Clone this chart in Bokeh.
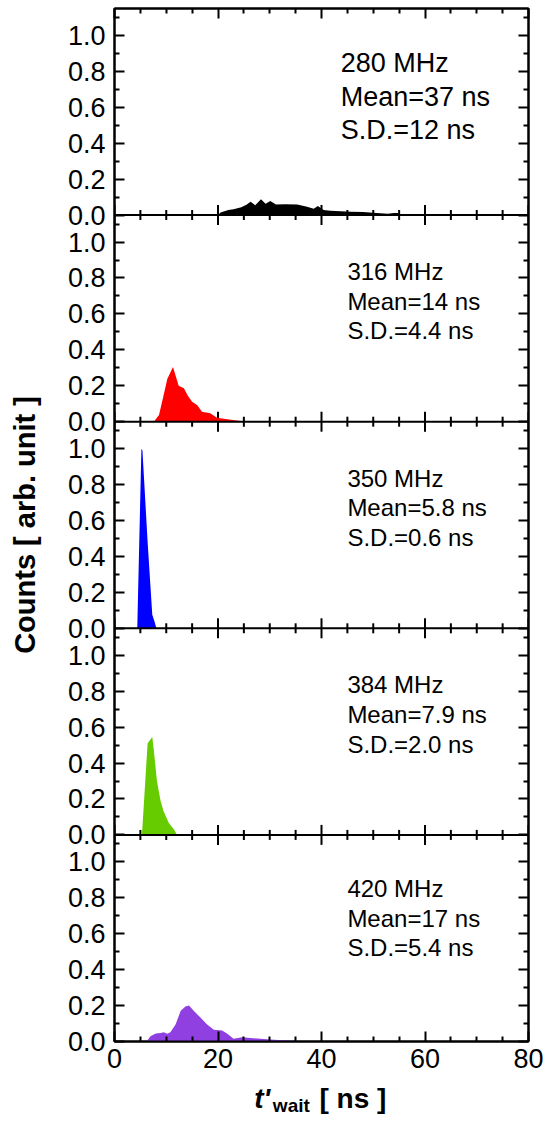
from bokeh.plotting import figure
from bokeh.layouts import column
from bokeh.models import (FixedTicker, CustomJSTickFormatter, LinearAxis, Span,
                          Range1d)
from bokeh.core.properties import value
from bokeh.embed import file_html
from bokeh.resources import INLINE

# ---------------- data ----------------
freqs = ["280", "316", "350", "384", "420"]
means = ["37", "14", "5.8", "7.9", "17"]
sds = ["12", "4.4", "0.6", "2.0", "5.4"]
colors = ["#000000", "#FF0000", "#0000FF", "#66CC00", "#9040E0"]

t_280 = [18, 20, 20.5, 22, 23, 24.5, 25.5, 26.3, 27.2, 28.3, 29.2, 30.1, 31.2, 33,
         35.3, 37.2, 38.5, 39.3, 40.4, 41.7, 43.7, 45.6, 48, 50, 52.8, 54, 54.7,
         55.3, 57.2, 59, 62]
c_280 = [0, 0, 0.014, 0.029, 0.033, 0.043, 0.057, 0.074, 0.055, 0.088, 0.063, 0.078,
         0.059, 0.061, 0.059, 0.047, 0.035, 0.05, 0.029, 0.024, 0.021, 0.019, 0.017,
         0.013, 0.008, 0.011, 0.011, 0.006, 0.004, 0.003, 0]

t_316 = [7.6, 8.6, 9.5, 10.2, 11.3, 12.4, 13.4, 14.2, 15.0, 16.0, 16.9, 18.5, 19.8,
         21.8, 24.3, 25.5]
c_316 = [0, 0.037, 0.149, 0.238, 0.305, 0.2, 0.186, 0.143, 0.111, 0.092, 0.055,
         0.047, 0.022, 0.013, 0.004, 0]

t_350 = [4.4, 5.2, 5.4, 6.4, 7.3, 7.7, 8.1]
c_350 = [0, 1.0, 0.99, 0.48, 0.075, 0.04, 0]

t_384 = [5.3, 6.4, 7.3, 7.6, 8.2, 8.9, 9.5, 10.5, 11.5, 12.1]
c_384 = [0, 0.51, 0.545, 0.47, 0.30, 0.19, 0.13, 0.066, 0.03, 0]

t_420 = [6.2, 7.0, 8.0, 8.9, 9.5, 10.2, 10.8, 11.8, 12.8, 13.7, 14.4, 15.3, 16.6,
         17.9, 19.2, 20.8, 21.8, 23.0, 24.7, 26.3, 28.2, 30.8, 33.4, 35.3, 42, 43]
c_420 = [0, 0.03, 0.045, 0.047, 0.052, 0.043, 0.052, 0.095, 0.171, 0.195, 0.2, 0.171,
         0.133, 0.095, 0.065, 0.061, 0.043, 0.015, 0.024, 0.019, 0.015, 0.01, 0.006,
         0.003, 0.001, 0]

series_t = [t_280, t_316, t_350, t_384, t_420]
series_c = [c_280, c_316, c_350, c_384, c_420]

x_major = [0, 20, 40, 60, 80]
x_minor = [5, 10, 15, 25, 30, 35, 45, 50, 55, 65, 70, 75]
y_major = [0.0, 0.2, 0.4, 0.6, 0.8, 1.0]
y_minor = [0.1, 0.3, 0.5, 0.7, 0.9, 1.1]

# ---------------- layout constants ----------------
PANEL_H = 1.15
N = len(freqs)
FRAME_W, FRAME_H = 414, 1033
PX_PER_Y = FRAME_H / (N * PANEL_H)
FONT = "Liberation Sans"
B_LEFT, B_RIGHT = 114, 17
MAIN_BOTTOM = 42
LABEL_H = 1121 - 8 - FRAME_H - MAIN_BOTTOM

# per-panel text placement (x in ns, y within panel)
text_x = [43.7, 45.0, 45.0, 45.0, 45.0]
text_y = [[0.845, 0.655, 0.475], [0.835, 0.67, 0.505], [0.835, 0.67, 0.505],
          [0.835, 0.67, 0.505], [0.85, 0.687, 0.522]]
text_size = ["27px", "24px", "24px", "24px", "24px"]

p = figure(frame_width=FRAME_W, frame_height=FRAME_H,
           min_border_left=B_LEFT, min_border_right=B_RIGHT, min_border_top=8,
           min_border_bottom=MAIN_BOTTOM,
           x_range=Range1d(0, 80), y_range=Range1d(0, N * PANEL_H),
           output_backend="svg", toolbar_location=None,
           x_axis_location=None, y_axis_location=None)
p.xgrid.visible = False
p.ygrid.visible = False
p.outline_line_color = "black"
p.outline_line_width = 2
p.background_fill_color = "white"
p.border_fill_color = "white"

# y ticks for all panels
yt_major = [round(k * PANEL_H + v, 6) for k in range(N) for v in y_major]
yt_minor = [round(k * PANEL_H + v, 6) for k in range(N) for v in y_minor]
yticker = FixedTicker(ticks=yt_major, minor_ticks=yt_minor)
yfmt = CustomJSTickFormatter(args=dict(h=PANEL_H), code="""
    const k = Math.floor((tick + 1e-6) / h);
    const v = tick - k * h;
    return Math.abs(v).toFixed(1);
""")
blank = CustomJSTickFormatter(code="return '';")
xticker = FixedTicker(ticks=x_major, minor_ticks=x_minor)


def style_axis(ax):
    ax.axis_line_width = 2
    ax.axis_line_color = "black"
    ax.major_tick_in = 10
    ax.major_tick_out = 0
    ax.minor_tick_in = 5
    ax.minor_tick_out = 0
    ax.major_tick_line_width = 2
    ax.minor_tick_line_width = 2
    ax.major_label_text_font = FONT
    ax.major_label_text_font_size = "27px"
    ax.major_label_text_color = "black"


left = LinearAxis(ticker=yticker, formatter=yfmt,
                  axis_label="Counts [ arb. unit ]")
style_axis(left)
left.major_label_standoff = 9
left.axis_label_text_font = FONT
left.axis_label_text_font_style = "bold"
left.axis_label_text_font_size = "29px"
left.axis_label_text_color = "black"
left.axis_label_standoff = 24
p.add_layout(left, "left")

right = LinearAxis(ticker=yticker, formatter=blank)
style_axis(right)
right.major_label_text_font_size = "0px"
right.major_label_standoff = 0
p.add_layout(right, "right")

bottom = LinearAxis(ticker=xticker)
style_axis(bottom)
bottom.major_label_standoff = 7
p.add_layout(bottom, "below")

top = LinearAxis(ticker=xticker, formatter=blank)
style_axis(top)
top.major_label_text_font_size = "0px"
top.major_label_standoff = 0
p.add_layout(top, "above")

# panel boundaries with ticks pointing both ways
for k in range(1, N):
    b = k * PANEL_H
    p.add_layout(Span(location=b, dimension="width", line_color="black",
                      line_width=2))
    dM = 10 / PX_PER_Y
    dm = 5 / PX_PER_Y
    p.segment(x0=x_major, y0=[b - dM] * len(x_major), x1=x_major,
              y1=[b + dM] * len(x_major), line_color="black", line_width=2)
    p.segment(x0=x_minor, y0=[b - dm] * len(x_minor), x1=x_minor,
              y1=[b + dm] * len(x_minor), line_color="black", line_width=2)

# distributions and annotations
for i in range(N):
    off = (N - 1 - i) * PANEL_H
    t = series_t[i]
    c = series_c[i]
    p.varea(x=t, y1=[off] * len(t), y2=[off + v for v in c],
            fill_color=colors[i], fill_alpha=1.0)
    texts = [f"{freqs[i]} MHz", f"Mean={means[i]} ns", f"S.D.={sds[i]} ns"]
    p.text(x=[text_x[i]] * 3, y=[off + yy for yy in text_y[i]], text=texts,
           text_font=value(FONT), text_font_size=text_size[i],
           text_baseline="middle", text_align="left", text_color="black")

# x axis label strip: t'_wait [ ns ]
q = figure(frame_width=FRAME_W, frame_height=LABEL_H,
           min_border_left=B_LEFT, min_border_right=B_RIGHT, min_border_top=0,
           min_border_bottom=0, x_range=p.x_range, y_range=Range1d(0, LABEL_H),
           output_backend="svg", toolbar_location=None,
           x_axis_location=None, y_axis_location=None)
q.xgrid.visible = False
q.ygrid.visible = False
q.outline_line_color = None
q.background_fill_color = "white"
q.border_fill_color = "white"

lab_y = LABEL_H - (1098 - (8 + FRAME_H + MAIN_BOTTOM))
q.text(x=[27.0], y=[lab_y], text=["t'"], text_font=value(FONT),
       text_font_style="bold italic", text_font_size="28px",
       text_baseline="middle", text_align="left", text_color="black")
q.text(x=[30.6], y=[lab_y - 7], text=["wait"], text_font=value(FONT),
       text_font_style="bold", text_font_size="19px",
       text_baseline="middle", text_align="left", text_color="black")
q.text(x=[39.6], y=[lab_y], text=["[ ns ]"], text_font=value(FONT),
       text_font_style="bold", text_font_size="28px",
       text_baseline="middle", text_align="left", text_color="black")

layout = column(p, q, spacing=0)
open("out.html", "w").write(file_html(layout, INLINE))
